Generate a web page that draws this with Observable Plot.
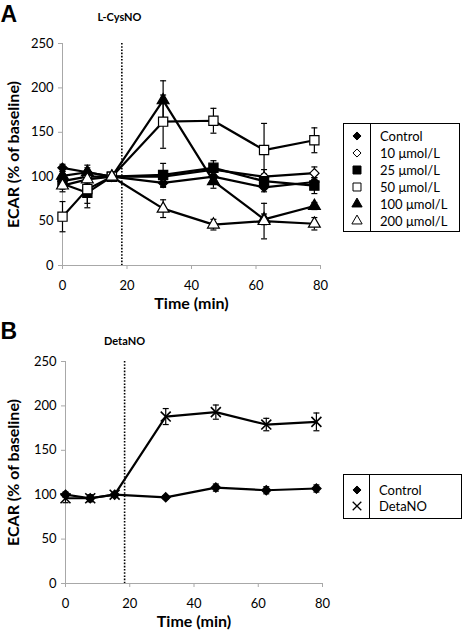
<!DOCTYPE html>
<html><head><meta charset="utf-8">
<script src="https://cdn.jsdelivr.net/npm/d3@7"></script>
<script src="https://cdn.jsdelivr.net/npm/@observablehq/plot@0.6"></script>
<style>
body{margin:0;background:#fff;font-family:Lato,sans-serif;}
#wrap{position:relative;width:462px;height:630px;overflow:hidden;}
.panel{position:absolute;left:0;}
.legend{position:absolute;border:1px solid #000;box-sizing:border-box;background:#fff;}
.legend .sep{position:absolute;top:0;bottom:0;border-left:1px solid #000;}
.legend .row{position:absolute;left:0;right:0;font-size:13px;color:#000;}
.legend .row svg{position:absolute;}
.legend .row span{position:absolute;white-space:nowrap;line-height:16px;}
</style></head><body><div id="wrap"></div>
<script>
// ---------- data ----------
const times = [0, 7.7, 15.3, 31.2, 46.8, 62.5, 78.1];
const xTicks = [0, 20, 40, 60, 80];
const yTicks = [0, 50, 100, 150, 200, 250];
const injectionTime = 18.4;

const labelsA = ["Control", "10 μmol/L", "25 μmol/L", "50 μmol/L", "100 μmol/L", "200 μmol/L"];
const controlA    = [110, 105, 100,  93, 100,  88,  94];
const controlAErr = [  4,   5,   0,   5,   5,   5,   5];
const cys10       = [ 95, 100, 100, 100, 108, 100, 104];
const cys10Err    = [  8,   8,   0,   6,   6,   8,   7];
const cys25       = [ 92,  82, 100, 102, 110,  95,  90];
const cys25Err    = [  6,  12,   0,  13,   8,   8,   9];
const cys50       = [ 55,  86, 100, 162, 163, 130, 141];
const cys50Err    = [ 17,  21,   0,  30,  14,  30,  14];
const cys100      = [101, 105, 100, 186,  95,  52,  67];
const cys100Err   = [  5,   8,   0,  22,   8,   6,   4];
const cys200      = [ 90,  97, 100,  64,  46,  50,  47];
const cys200Err   = [  7,   8,   0,  10,   6,  20,   7];

const labelsB = ["Control", "DetaNO"];
const controlB    = [100,  96, 100,  97, 108, 105, 107];
const controlBErr = [  3,   3,   0,   2,   4,   4,   4];
const detaNO      = [ 96,  96, 100, 188, 193, 179, 182];
const detaNOErr   = [  5,   4,   0,   9,   8,   7,  10];

// ---------- styles ----------
const stylesA = [
  {symbol: "diamond2", fill: "black", r: 4.2},
  {symbol: "diamond2", fill: "white", r: 4.2},
  {symbol: "square",   fill: "black", r: 5.2},
  {symbol: "square",   fill: "white", r: 5.2},
  {symbol: "triangle", fill: "black", r: 4.4},
  {symbol: "triangle", fill: "white", r: 4.4}
];
const stylesB = [
  {symbol: "diamond2", fill: "black", r: 4.2},
  {symbol: "times",    fill: "none",  r: 4.6}
];
const d3Symbols = {diamond2: d3.symbolDiamond2, square: d3.symbolSquare, triangle: d3.symbolTriangle, times: d3.symbolTimes};
const capSymbol = {draw(ctx, size) { const w = Math.sqrt(size / Math.PI); ctx.moveTo(-w, 0); ctx.lineTo(w, 0); }};
const axisGray = "#a8a8a8";

function makePanel({top, height, m, series, styles, letter, drug, letterDy, drugDx, drugDy, titleDy}) {
  const seriesRows = series.map(([vals, errs]) => times.map((t, i) => ({t, v: vals[i], e: errs[i]})));
  const marks = [
    Plot.ruleX([0], {stroke: axisGray}),
    Plot.ruleY([0], {stroke: axisGray}),
    Plot.axisX({ticks: xTicks, tickSize: 4, tickPadding: 11, stroke: axisGray, fill: "black", label: null, fontSize: 13}),
    Plot.axisY({ticks: yTicks, tickSize: 4, tickPadding: 5, stroke: axisGray, fill: "black", label: null, fontSize: 13}),
    Plot.ruleX([injectionTime], {stroke: "black", strokeWidth: 1.6, strokeDasharray: "1.6,1.6"})
  ];
  seriesRows.forEach(rows => {
    const eb = rows.filter(d => d.e > 0);
    marks.push(
      Plot.ruleX(eb, {x: "t", y1: d => d.v - d.e, y2: d => d.v + d.e, stroke: "black", strokeWidth: 1.2}),
      Plot.dot(eb, {x: "t", y: d => d.v + d.e, symbol: capSymbol, r: 3, stroke: "black", strokeWidth: 1.2}),
      Plot.dot(eb, {x: "t", y: d => d.v - d.e, symbol: capSymbol, r: 3, stroke: "black", strokeWidth: 1.2})
    );
  });
  seriesRows.forEach(rows => marks.push(Plot.line(rows, {x: "t", y: "v", stroke: "black", strokeWidth: 2.2})));
  seriesRows.forEach((rows, k) => {
    const s = styles[k];
    marks.push(Plot.dot(rows, {x: "t", y: "v", symbol: s.symbol, r: s.r, fill: s.fill,
      stroke: "black", strokeWidth: s.symbol === "times" ? 1.6 : 1.2}));
  });
  marks.push(
    Plot.text(["ECAR (% of baseline)"], {frameAnchor: "left", textAnchor: "middle", lineAnchor: "middle", rotate: -90, dx: -(m.left - 13), fontSize: 16, fontWeight: "bold", fill: "black"}),
    Plot.text(["Time (min)"], {frameAnchor: "bottom", textAnchor: "middle", lineAnchor: "middle", dy: titleDy, fontSize: 16, fontWeight: "bold", fill: "black"}),
    Plot.text([drug], {frameAnchor: "top-left", textAnchor: "middle", lineAnchor: "middle", dx: drugDx, dy: drugDy, fontSize: 11, fontWeight: "bold", fill: "black"}),
    Plot.text([letter], {frameAnchor: "top-left", textAnchor: "start", lineAnchor: "middle", dx: -m.left, dy: letterDy, fontSize: 23, fontWeight: "bold", fontFamily: "Liberation Sans", fill: "black"})
  );
  const svg = Plot.plot({
    width: 462, height,
    marginLeft: m.left, marginRight: m.right, marginTop: m.top, marginBottom: m.bottom,
    x: {domain: [0, 80]},
    y: {domain: [0, 250]},
    style: {fontFamily: "Lato, sans-serif", fontSize: "13px", background: "white", color: "black", overflow: "visible"},
    marks
  });
  svg.classList.add("panel");
  svg.style.top = top + "px";
  return svg;
}

function makeLegend({left, top, width, height, sepX, rowY, labels, styles}) {
  const box = document.createElement("div");
  box.className = "legend";
  Object.assign(box.style, {left: left + "px", top: top + "px", width: width + "px", height: height + "px"});
  const sep = document.createElement("div");
  sep.className = "sep"; sep.style.left = sepX + "px";
  box.appendChild(sep);
  labels.forEach((lab, i) => {
    const row = document.createElement("div");
    row.className = "row";
    row.style.top = (rowY[i] - 8) + "px";
    row.style.height = "16px";
    const s = styles[i];
    const svg = d3.create("svg").attr("width", 16).attr("height", 16)
      .style("left", (sepX / 2 - 8) + "px").style("top", "0px");
    svg.append("path")
      .attr("transform", "translate(8,8)")
      .attr("d", d3.symbol(d3Symbols[s.symbol], Math.PI * s.r * s.r * 0.75)())
      .attr("fill", s.fill).attr("stroke", "black").attr("stroke-width", s.symbol === "times" ? 1.3 : 1);
    row.appendChild(svg.node());
    const sp = document.createElement("span");
    sp.textContent = lab;
    sp.style.left = (sepX + 10) + "px";
    sp.style.top = "0px";
    row.appendChild(sp);
    box.appendChild(row);
  });
  return box;
}

const wrap = document.getElementById("wrap");
wrap.appendChild(makePanel({
  top: 0, height: 315, m: {left: 62, right: 142, top: 43, bottom: 50},
  series: [[controlA, controlAErr], [cys10, cys10Err], [cys25, cys25Err], [cys50, cys50Err], [cys100, cys100Err], [cys200, cys200Err]],
  styles: stylesA, letter: "A", drug: "L-CysNO", letterDy: -29, drugDx: 57, drugDy: -26, titleDy: 38
}));
wrap.appendChild(makePanel({
  top: 315, height: 315, m: {left: 65, right: 140, top: 46, bottom: 47},
  series: [[controlB, controlBErr], [detaNO, detaNOErr]],
  styles: stylesB, letter: "B", drug: "DetaNO", letterDy: -30, drugDx: 59, drugDy: -20, titleDy: 38
}));
wrap.appendChild(makeLegend({
  left: 343, top: 123, width: 117, height: 109, sepX: 26,
  rowY: [11.5, 28.5, 45.5, 62.5, 79.5, 96.5], labels: labelsA, styles: stylesA
}));
wrap.appendChild(makeLegend({
  left: 343, top: 474, width: 119, height: 45, sepX: 25,
  rowY: [15, 31], labels: labelsB, styles: stylesB
}));
</script>
</body></html>
